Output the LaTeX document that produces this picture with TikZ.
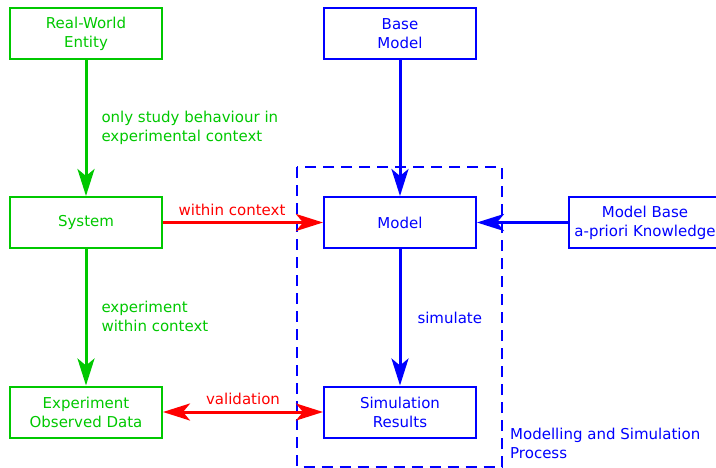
\documentclass[tikz,border=0pt]{standalone}
\usepackage{fontspec}
\setmainfont{DejaVu Sans}
\usetikzlibrary{arrows.meta}
\definecolor{pgreen}{RGB}{0,200,0}
\definecolor{pblue}{RGB}{0,0,255}
\definecolor{pred}{RGB}{255,0,0}
\begin{document}
\begin{tikzpicture}[x=1pt,y=-1pt,
  every node/.style={font=\fontsize{15}{19}\selectfont},
  box/.style={draw, line width=2pt, minimum width=152pt, minimum height=51pt,
    align=center, inner sep=0pt},
  tip/.tip={Stealth[length=27pt,width=17pt,inset=7pt]},
  flow/.style={line width=3pt, -tip},
  biflow/.style={line width=3pt, tip-tip},
  lbl/.style={anchor=west, align=left, inner sep=0pt, xshift=14pt}
]
\useasboundingbox (0,0) rectangle (716,467);

% process frame
\draw[pblue, line width=2pt, dash pattern=on 11pt off 7pt] (297,167) rectangle (502,466.5);
\node[pblue, anchor=west, align=left, inner sep=0pt] (msplabel) at (510,443)
  {Modelling and Simulation\\Process};

% real-world side
\node[box, pgreen] (rwe) at (86,33.5) {Real-World\\Entity};
\node[box, pgreen] (sys) at (86,222.5) {System};
\node[box, pgreen] (exp) at (86,412) {Experiment\\Observed Data};

% model side
\node[box, pblue] (base) at (400,33.5) {Base\\Model};
\node[box, pblue] (model) at (400,222.5) {Model};
\node[box, pblue] (simres) at (400,412) {Simulation\\Results};
\node[box, pblue] (mbase) at (645,222.5) {Model Base\\a-priori Knowledge};

% connectors
\draw[flow, pgreen] (rwe) -- node[lbl, pgreen] {only study behaviour in\\experimental context} (sys);
\draw[flow, pgreen] (sys) -- node[lbl, pgreen, yshift=1pt] {experiment\\within context} (exp);
\draw[flow, pblue] (base) -- (model);
\draw[flow, pblue] (mbase) -- (model);
\draw[flow, pblue] (model) -- node[lbl, pblue, xshift=2pt, yshift=-1pt] {simulate} (simres);
\draw[flow, pred] (sys) -- node[pred, inner sep=0pt, xshift=-11pt, yshift=13pt] {within context} (model);
\draw[biflow, pred] (exp.east) -- node[pred, inner sep=0pt, yshift=13pt] {validation} (simres.west);
\end{tikzpicture}
\end{document}
